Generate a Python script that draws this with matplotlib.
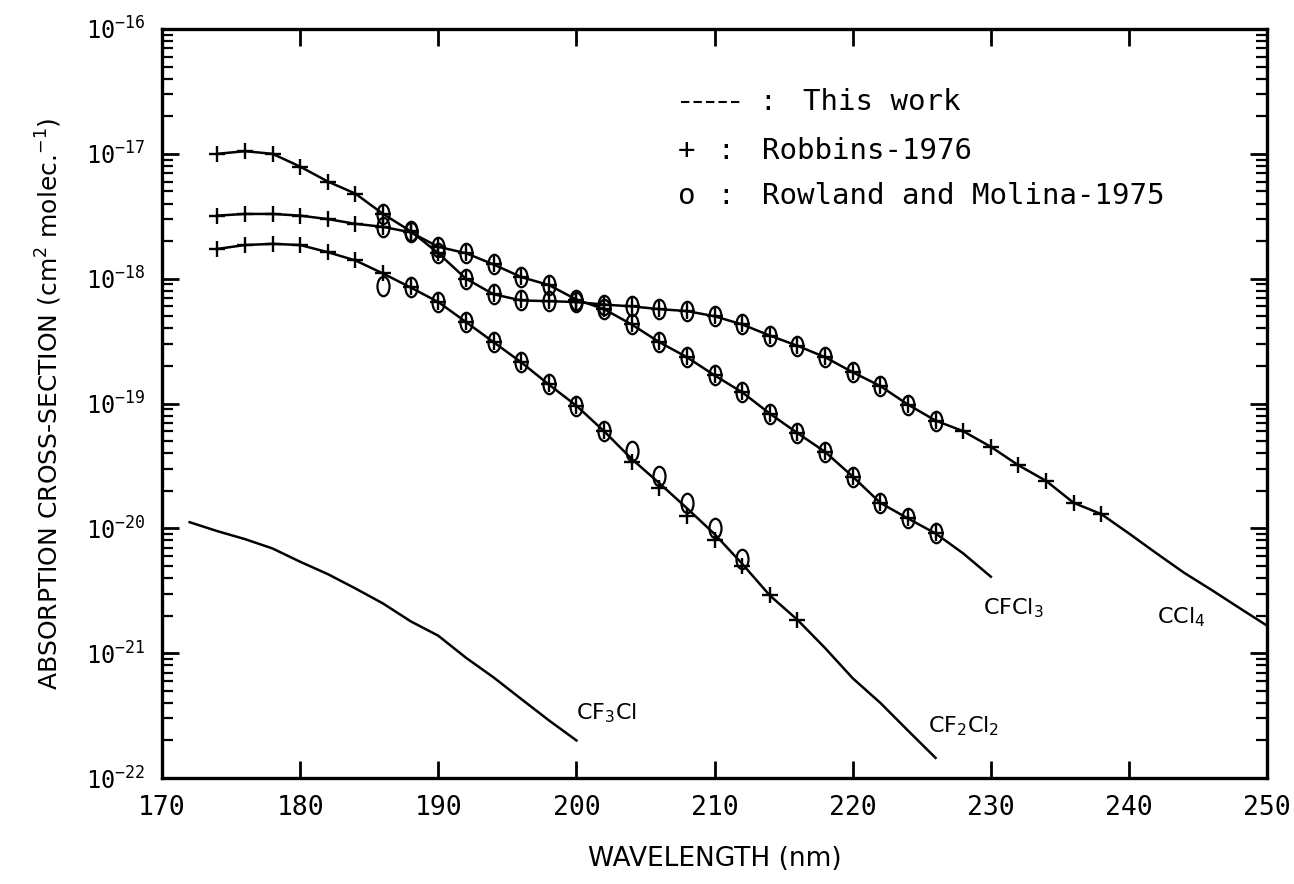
import numpy as np
import matplotlib.pyplot as plt
from matplotlib.path import Path
from matplotlib.transforms import Affine2D
from matplotlib.ticker import FixedLocator, NullLocator, FixedFormatter, MultipleLocator

# ---- "This work" curves (wavelength nm, cross-section cm2 molec-1) ----
wl_ccl4 = list(range(174, 251, 2))
cs_ccl4 = [1.0e-17, 1.05e-17, 1.0e-17, 7.9e-18, 6.0e-18, 4.8e-18, 3.3e-18, 2.4e-18,
           1.6e-18, 1.0e-18, 7.5e-19, 6.7e-19, 6.6e-19, 6.5e-19, 6.2e-19, 6.0e-19,
           5.7e-19, 5.5e-19, 5.0e-19, 4.3e-19, 3.5e-19, 2.9e-19, 2.35e-19, 1.78e-19,
           1.38e-19, 9.8e-20, 7.3e-20, 6.0e-20, 4.5e-20, 3.2e-20, 2.4e-20, 1.6e-20,
           1.3e-20, 9.1e-21, 6.3e-21, 4.4e-21, 3.2e-21, 2.3e-21, 1.66e-21]

wl_cfcl3 = list(range(174, 231, 2))
cs_cfcl3 = [3.2e-18, 3.3e-18, 3.3e-18, 3.2e-18, 3.0e-18, 2.75e-18, 2.6e-18, 2.35e-18,
            1.8e-18, 1.6e-18, 1.3e-18, 1.03e-18, 8.9e-19, 6.8e-19, 5.7e-19, 4.3e-19,
            3.1e-19, 2.35e-19, 1.68e-19, 1.23e-19, 8.3e-20, 5.8e-20, 4.1e-20, 2.6e-20,
            1.6e-20, 1.2e-20, 9.1e-21, 6.3e-21, 4.1e-21]

wl_cf2cl2 = list(range(174, 227, 2))
cs_cf2cl2 = [1.73e-18, 1.86e-18, 1.9e-18, 1.86e-18, 1.63e-18, 1.4e-18, 1.1e-18, 8.5e-19,
             6.5e-19, 4.5e-19, 3.1e-19, 2.14e-19, 1.42e-19, 9.6e-20, 6.0e-20, 3.6e-20,
             2.3e-20, 1.45e-20, 9.0e-21, 5.2e-21, 2.9e-21, 1.85e-21, 1.1e-21, 6.3e-22,
             4.0e-22, 2.4e-22, 1.45e-22]

wl_cf3cl = list(range(172, 201, 2))
cs_cf3cl = [1.12e-20, 9.5e-21, 8.2e-21, 6.9e-21, 5.4e-21, 4.3e-21, 3.3e-21, 2.5e-21,
            1.8e-21, 1.38e-21, 9.2e-22, 6.4e-22, 4.3e-22, 2.9e-22, 2.0e-22]

# ---- Robbins-1976 (+) ----
rb_wl_ccl4 = list(range(174, 239, 2))
rb_cs_ccl4 = cs_ccl4[:len(rb_wl_ccl4)]
rb_wl_cfcl3 = list(range(174, 227, 2))
rb_cs_cfcl3 = cs_cfcl3[:len(rb_wl_cfcl3)]
rb_wl_cf2cl2 = list(range(174, 217, 2))
rb_cs_cf2cl2 = [1.73e-18, 1.86e-18, 1.9e-18, 1.86e-18, 1.63e-18, 1.4e-18, 1.1e-18, 8.5e-19,
                6.5e-19, 4.5e-19, 3.1e-19, 2.14e-19, 1.42e-19, 9.6e-20, 6.0e-20, 3.4e-20,
                2.1e-20, 1.26e-20, 8.1e-21, 5.0e-21, 2.9e-21, 1.85e-21]

# ---- Rowland and Molina-1975 (o) ----
rm_wl_ccl4 = list(range(186, 227, 2))
rm_cs_ccl4 = cs_ccl4[6:6 + len(rm_wl_ccl4)]
rm_wl_cfcl3 = list(range(186, 227, 2))
rm_cs_cfcl3 = cs_cfcl3[6:6 + len(rm_wl_cfcl3)]
rm_wl_cf2cl2 = list(range(186, 213, 2))
rm_cs_cf2cl2 = [8.7e-19, 8.5e-19, 6.5e-19, 4.5e-19, 3.1e-19, 2.14e-19, 1.42e-19, 9.6e-20,
                6.0e-20, 4.2e-20, 2.65e-20, 1.6e-20, 1.0e-20, 5.7e-21]

# axis ticks
y_exps = list(range(-22, -15))
x_ticks = list(range(170, 251, 10))

mono = 'DejaVu Sans Mono'
oval = Path.unit_circle().transformed(Affine2D().scale(0.62, 1.0))

fig = plt.figure(figsize=(12.94, 8.84), dpi=100)
ax = fig.add_axes([0.1252, 0.1199, 0.854, 0.8473])

for wl, cs in [(wl_ccl4, cs_ccl4), (wl_cfcl3, cs_cfcl3),
               (wl_cf2cl2, cs_cf2cl2), (wl_cf3cl, cs_cf3cl)]:
    ax.plot(wl, cs, color='k', lw=1.8)

for wl, cs in [(rb_wl_ccl4, rb_cs_ccl4), (rb_wl_cfcl3, rb_cs_cfcl3),
               (rb_wl_cf2cl2, rb_cs_cf2cl2)]:
    ax.plot(wl, cs, ls='none', marker='+', ms=11, mew=1.7, color='k')

for wl, cs in [(rm_wl_ccl4, rm_cs_ccl4), (rm_wl_cfcl3, rm_cs_cfcl3),
               (rm_wl_cf2cl2, rm_cs_cf2cl2)]:
    ax.plot(wl, cs, ls='none', marker=oval, ms=14, mew=1.6, mfc='none', mec='k')

ax.set_yscale('log')
ax.set_xlim(170, 250)
ax.set_ylim(1e-22, 1e-16)

ax.xaxis.set_major_locator(FixedLocator(x_ticks))
ax.xaxis.set_minor_locator(NullLocator())
major_y = [10.0 ** e for e in y_exps]
minor_y = [m * 10.0 ** e for e in y_exps[:-1] for m in range(2, 10)]
ax.yaxis.set_major_locator(FixedLocator(major_y))
ax.yaxis.set_major_formatter(FixedFormatter([r'$\mathtt{10^{%d}}$' % e for e in y_exps]))
ax.yaxis.set_minor_locator(FixedLocator(minor_y))
ax.yaxis.set_minor_formatter(FixedFormatter([''] * len(minor_y)))

ax.tick_params(which='both', direction='in', top=True, right=True)
ax.tick_params(which='major', length=12, width=2)
ax.tick_params(which='minor', length=8, width=1.6)
ax.tick_params(axis='x', labelsize=19, pad=12)
ax.tick_params(axis='y', labelsize=17, pad=12)
for lab in ax.get_xticklabels():
    lab.set_family(mono)
for sp in ax.spines.values():
    sp.set_linewidth(2.4)

ax.set_xlabel('WAVELENGTH (nm)', fontsize=19, labelpad=18)
ax.set_ylabel(r'ABSORPTION CROSS-SECTION (cm$^2$ molec.$^{-1}$)', fontsize=18, labelpad=16)

# curve labels
ax.text(202.2, 3.3e-22, r'CF$_3$Cl', fontsize=16, ha='center', va='center')
ax.text(228.0, 2.6e-22, r'CF$_2$Cl$_2$', fontsize=16, ha='center', va='center')
ax.text(231.6, 2.3e-21, r'CFCl$_3$', fontsize=16, ha='center', va='center')
ax.text(243.8, 1.95e-21, r'CCl$_4$', fontsize=16, ha='center', va='center')

# key
ax.plot([0.470, 0.524], [0.902, 0.902], transform=ax.transAxes, color='k',
        lw=1.5, ls=(0, (4, 2)))
ax.text(0.548, 0.902, ':', transform=ax.transAxes, fontsize=20, family=mono,
        ha='center', va='center')
ax.text(0.580, 0.902, 'This work', transform=ax.transAxes, fontsize=21,
        family=mono, va='center')
ax.text(0.475, 0.837, '+', transform=ax.transAxes, fontsize=21, family=mono,
        ha='center', va='center')
ax.text(0.510, 0.837, ':', transform=ax.transAxes, fontsize=20, family=mono,
        ha='center', va='center')
ax.text(0.543, 0.837, 'Robbins-1976', transform=ax.transAxes, fontsize=21,
        family=mono, va='center')
ax.text(0.475, 0.777, 'o', transform=ax.transAxes, fontsize=21, family=mono,
        ha='center', va='center')
ax.text(0.510, 0.777, ':', transform=ax.transAxes, fontsize=20, family=mono,
        ha='center', va='center')
ax.text(0.543, 0.777, 'Rowland and Molina-1975', transform=ax.transAxes,
        fontsize=21, family=mono, va='center')

fig.savefig('out.png', dpi=100)
